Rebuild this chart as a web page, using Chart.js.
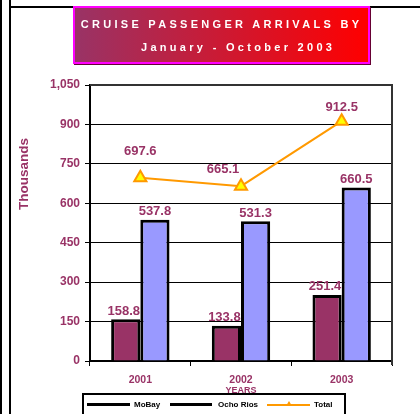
<!DOCTYPE html>
<html>
<head>
<meta charset="utf-8">
<script src="https://cdn.jsdelivr.net/npm/chart.js@4/dist/chart.umd.min.js"></script>
<style>
  html, body { margin:0; padding:0; background:#fff; }
  #wrap { position:relative; width:420px; height:414px; overflow:hidden; font-family:"Liberation Sans", Arial, sans-serif; }
  canvas { position:absolute; left:0; top:0; }
  .vline { position:absolute; top:0; height:414px; background:#000; }
  #topline { position:absolute; left:9px; top:6px; width:411px; height:2px; background:#000; }
  #titlebox { position:absolute; left:73px; top:6px; width:297px; height:58px; box-sizing:border-box;
    border:2px solid #FF00FF; background:linear-gradient(to right, #993366, #FF0000);
    box-shadow: 1px 1px 0 #660033; color:#fff; font-weight:bold; font-size:11px; letter-spacing:3.3px; }
  #t1 { position:absolute; left:0; width:100%; top:10px; text-align:center; white-space:nowrap; }
  #t2 { position:absolute; left:66px; top:33px; white-space:nowrap; }
  #ytitle { position:absolute; left:23px; top:174px; transform:translate(-50%,-50%) rotate(-90deg);
    color:#993366; font-weight:bold; font-size:13.5px; white-space:nowrap; }
  #xtitle { position:absolute; left:241px; top:390px; transform:translate(-50%,-50%);
    color:#993366; font-weight:bold; font-size:9px; white-space:nowrap; }
  #legend { position:absolute; left:82px; top:393px; width:264px; height:30px; box-sizing:border-box;
    border:2px solid #000; background:#fff; font-weight:bold; font-size:8px; color:#000; }
  .lg { position:absolute; top:8px; height:3px; background:#000; }
  .lt { position:absolute; top:5px; white-space:nowrap; }
</style>
</head>
<body>
<div id="wrap">
  <canvas id="c" width="420" height="414"></canvas>
  <div class="vline" style="left:0;width:2px"></div>
  <div class="vline" style="left:9px;width:2px"></div>
  <div id="topline"></div>
  <div id="titlebox"><div id="t1">CRUISE PASSENGER ARRIVALS BY</div><div id="t2">January - October 2003</div></div>
  <div id="ytitle">Thousands</div>
  <div id="xtitle">YEARS</div>
  <div id="legend"></div>
</div>
<script>
const categories = ["2001", "2002", "2003"];
const moBay = [158.8, 133.8, 251.4];
const ochoRios = [537.8, 531.3, 660.5];
const total = [697.6, 665.1, 912.5];
const seriesNames = ["MoBay", "Ocho Rios", "Total"];
const yTicks = [0, 150, 300, 450, 600, 750, 900, 1050];

const labelColor = "#993366";
const totalLabelOffsets = [[0, -26], [-18, -17], [0, -14]];

const legendEl = document.getElementById("legend");
const legendItems = [
  { x: 3, w: 43, tx: 50, color: "#000", name: seriesNames[0] },
  { x: 86, w: 42, tx: 134, color: "#000", name: seriesNames[1] },
  { x: 183, w: 43, tx: 230, color: "#FF9900", name: seriesNames[2], marker: true }
];
legendItems.forEach(it => {
  const l = document.createElement("div");
  l.className = "lg"; l.style.left = it.x + "px"; l.style.width = it.w + "px"; l.style.background = it.color;
  if (it.marker) { l.style.height = "2px"; l.style.top = "9px"; }
  legendEl.appendChild(l);
  if (it.marker) {
    const m = document.createElement("div");
    m.style.cssText = "position:absolute;top:6px;left:" + (it.x + it.w/2 - 3) + "px;width:0;height:0;border-left:3px solid transparent;border-right:3px solid transparent;border-bottom:5px solid #FF9900;";
    legendEl.appendChild(m);
  }
  const t = document.createElement("div");
  t.className = "lt"; t.style.left = it.tx + "px"; t.textContent = it.name;
  legendEl.appendChild(t);
});

const labelsPlugin = {
  id: "valueLabels",
  afterDatasetsDraw(chart) {
    const ctx = chart.ctx;
    ctx.save();
    ctx.font = "bold 13px 'Liberation Sans', Arial, sans-serif";
    ctx.fillStyle = labelColor;
    ctx.textAlign = "center";
    ctx.textBaseline = "middle";
    chart.data.datasets.forEach((ds, di) => {
      const meta = chart.getDatasetMeta(di);
      meta.data.forEach((el, i) => {
        const v = ds.data[i].toFixed(1);
        if (ds.type === "line") {
          const o = totalLabelOffsets[i];
          ctx.fillText(v, el.x + o[0], el.y + o[1]);
        } else {
          ctx.fillText(v, el.x - (di === 1 ? 2 : 0), el.y - 8);
        }
      });
    });
    ctx.restore();
  },
  afterDraw(chart) {
    const a = chart.chartArea, ctx = chart.ctx;
    ctx.save();
    ctx.strokeStyle = "#333";
    ctx.lineWidth = 2;
    ctx.beginPath();
    ctx.moveTo(a.left, a.top);
    ctx.lineTo(a.right, a.top);
    ctx.lineTo(a.right, a.bottom + 4);
    ctx.stroke();
    ctx.restore();
  }
};

new Chart(document.getElementById("c"), {
  type: "bar",
  data: {
    labels: categories,
    datasets: [
      { type: "line", label: seriesNames[2], data: total, order: 0,
        borderColor: "#FF9900", borderWidth: 2, tension: 0,
        pointStyle: "triangle", pointRadius: 7, pointBackgroundColor: "#FFFF00",
        pointBorderColor: "#FF9900", pointBorderWidth: 2 },
      { label: seriesNames[0], data: moBay, order: 1, backgroundColor: "#993366",
        borderColor: "#000", borderWidth: 3, categoryPercentage: 0.58, barPercentage: 1.0 },
      { label: seriesNames[1], data: ochoRios, order: 1, backgroundColor: "#9999FF",
        borderColor: "#000", borderWidth: 3, categoryPercentage: 0.58, barPercentage: 1.0 }
    ]
  },
  options: {
    responsive: false,
    animation: false,
    devicePixelRatio: 1,
    layout: { padding: { left: 0, right: 28, top: 85, bottom: 0 } },
    plugins: { legend: { display: false }, tooltip: { enabled: false } },
    scales: {
      x: {
        offset: true,
        grid: { drawOnChartArea: false, drawTicks: true, tickLength: 5, color: "#000", offset: true },
        border: { color: "#000", width: 2 },
        ticks: { color: labelColor, font: { family: "'Liberation Sans', Arial, sans-serif", size: 10.5, weight: "bold" }, padding: 8 },
        afterFit(s) { s.height = 53; }
      },
      y: {
        min: 0, max: 1050,
        afterBuildTicks(s) { s.ticks = yTicks.map(v => ({ value: v })); },
        grid: { color: "#000", lineWidth: 1, tickLength: 5, tickColor: "#000" },
        border: { color: "#000", width: 2 },
        ticks: { color: labelColor, font: { family: "'Liberation Sans', Arial, sans-serif", size: 12, weight: "bold" }, padding: 5,
          callback: v => v.toLocaleString("en-US") },
        afterFit(s) { s.width = 90; }
      }
    }
  },
  plugins: [labelsPlugin]
});
</script>
</body>
</html>
